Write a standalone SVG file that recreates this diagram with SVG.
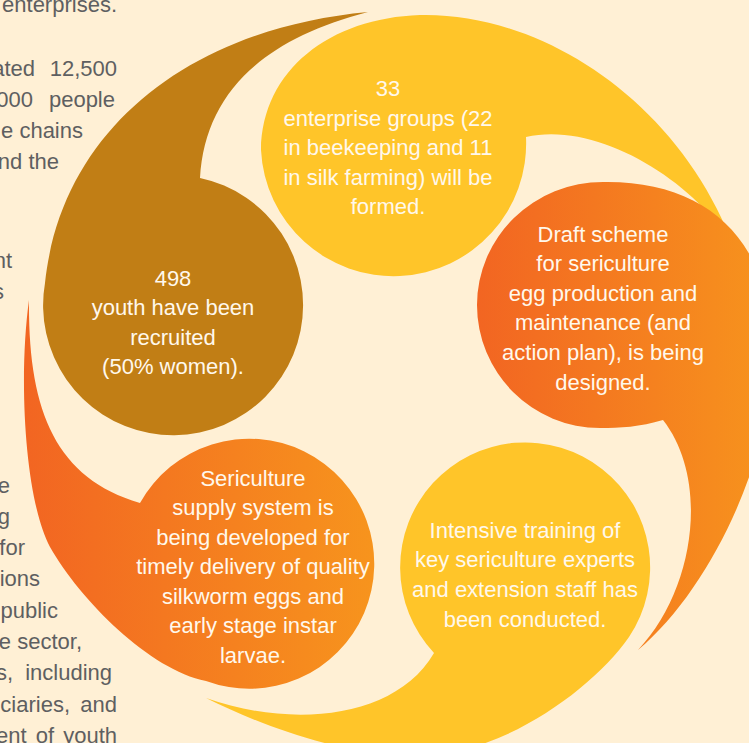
<svg xmlns="http://www.w3.org/2000/svg" width="749" height="743" viewBox="0 0 749 743">
<defs>
<linearGradient id="og" x1="0" y1="0" x2="1" y2="0"><stop offset="0" stop-color="#F26522"/><stop offset="1" stop-color="#F7941D"/></linearGradient>
<style>
.bg{fill:#FFF0D5}
.body{font-family:"Liberation Sans",Arial,Helvetica,sans-serif;font-size:22px;fill:#5E5F61;text-anchor:end}
.lbl{font-family:"Liberation Sans",Arial,Helvetica,sans-serif;font-size:22px;fill:#FFF8EC;text-anchor:middle}
.brown{fill:#C17E15}
.yellow{fill:#FFC529}
.orange{fill:url(#og)}
</style>
</defs>
<rect class="bg" x="0" y="0" width="749" height="743"/>
<g id="bodytext" class="body">
<text x="117" y="12">enterprises.</text>
<text x="35" y="76">ated</text><text x="117" y="76">12,500</text>
<text x="33" y="107">000</text><text x="115" y="107">people</text>
<text x="83" y="138">e chains</text>
<text x="59" y="169">nd the</text>
<text x="12" y="268">nt</text>
<text x="4" y="299">s</text>
<text x="10" y="493">e</text>
<text x="10" y="524">g</text>
<text x="25" y="555">for</text>
<text x="40" y="586">ions</text>
<text x="58" y="618">public</text>
<text x="82" y="649">e sector,</text>
<text x="13" y="680">s,</text><text x="112" y="680">including</text>
<text x="70" y="712">ciaries,</text><text x="117" y="712">and</text>
<text x="117" y="743" word-spacing="3">ent of youth</text>
</g>
<g id="node-youth">
<path class="brown" d="M200,178 A130,130 0 1 1 45,283 C62,125 195,28 368,12 C260,40 205,95 200,178 Z"/>
<text class="lbl"><tspan x="173" y="286">498</tspan><tspan x="173" y="315">youth have been</tspan><tspan x="173" y="345">recruited</tspan><tspan x="173" y="374">(50% women).</tspan></text>
</g>
<g id="node-enterprise">
<path class="yellow" d="M526,137 A131,131 0 1 1 261,150 C262,70 330,18 420,15 C540,12 680,100 735,250 C700,185 600,120 526,137 Z"/>
<text class="lbl"><tspan x="388" y="96">33</tspan><tspan x="388" y="126">enterprise groups (22</tspan><tspan x="388" y="155">in beekeeping and 11</tspan><tspan x="388" y="185">in silk farming) will be</tspan><tspan x="388" y="214">formed.</tspan></text>
</g>
<g id="node-draft">
<path class="orange" d="M663,420 C640,427 620,428 600,428 A123,123 0 0 1 477,305 A126,123 0 0 1 603,182 C715,180 780,250 770,370 C770,460 710,590 638,650 C695,590 710,480 663,420 Z"/>
<text class="lbl"><tspan x="603" y="242">Draft scheme</tspan><tspan x="603" y="271">for sericulture</tspan><tspan x="603" y="301">egg production and</tspan><tspan x="603" y="330">maintenance (and</tspan><tspan x="603" y="360">action plan), is being</tspan><tspan x="603" y="390">designed.</tspan></text>
</g>
<g id="node-training">
<path class="yellow" d="M434,653 A125,125 0 1 1 629,637 C595,686 510,750 430,755 C350,760 260,725 206,698 C290,728 395,720 434,653 Z"/>
<text class="lbl"><tspan x="525" y="538">Intensive training of</tspan><tspan x="525" y="567">key sericulture experts</tspan><tspan x="525" y="597">and extension staff has</tspan><tspan x="525" y="627">been conducted.</tspan></text>
</g>
<g id="node-supply">
<path class="orange" d="M140,503 A125,125 0 1 1 206,681 C150,670 80,600 50,547 C25,500 18,380 29,300 C28,410 55,478 140,503 Z"/>
<text class="lbl"><tspan x="253" y="486">Sericulture</tspan><tspan x="253" y="515">supply system is</tspan><tspan x="253" y="545">being developed for</tspan><tspan x="253" y="574">timely delivery of quality</tspan><tspan x="253" y="604">silkworm eggs and</tspan><tspan x="253" y="633">early stage instar</tspan><tspan x="253" y="663">larvae.</tspan></text>
</g>
</svg>
